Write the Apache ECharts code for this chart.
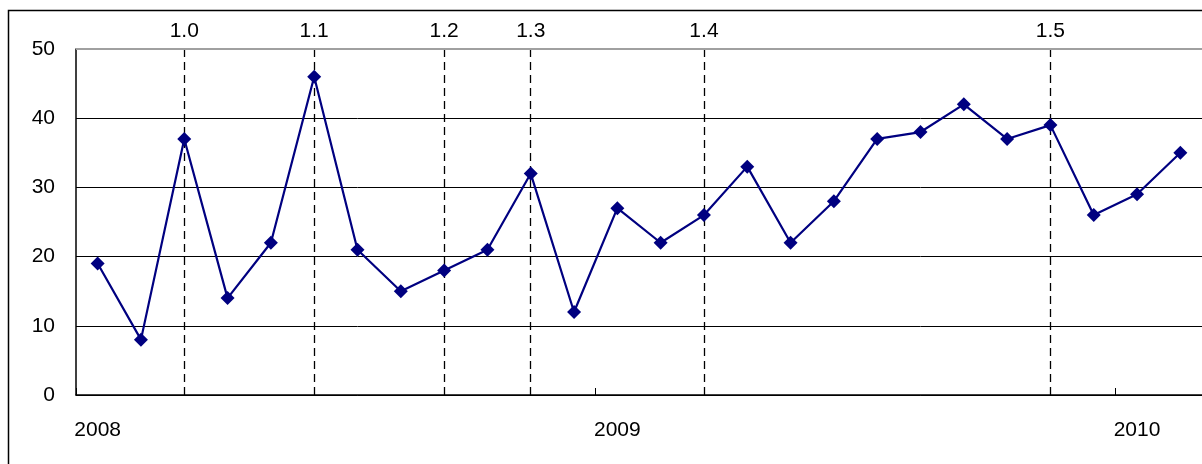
<!DOCTYPE html>
<html>
<head>
<meta charset="utf-8">
<script src="https://cdn.jsdelivr.net/npm/echarts@6/dist/echarts.min.js"></script>
<style>
  html, body { margin: 0; padding: 0; background: #fff; }
  #chart { width: 1202px; height: 464px; }
</style>
</head>
<body>
<div id="chart"></div>
<script>
// Monthly observations, Jan 2008 – Feb 2010
const months = [
  '2008-01','2008-02','2008-03','2008-04','2008-05','2008-06',
  '2008-07','2008-08','2008-09','2008-10','2008-11','2008-12',
  '2009-01','2009-02','2009-03','2009-04','2009-05','2009-06',
  '2009-07','2009-08','2009-09','2009-10','2009-11','2009-12',
  '2010-01','2010-02'
];
const values = [
  19, 8, 37, 14, 22, 46, 21, 15, 18, 21, 32, 12,
  27, 22, 26, 33, 22, 28, 37, 38, 42, 37, 39, 26,
  29, 35
];
// Release markers: version label and the month it landed in
const releaseNames = ['1.0', '1.1', '1.2', '1.3', '1.4', '1.5'];
const releaseMonths = ['2008-03', '2008-06', '2008-09', '2008-11', '2009-03', '2009-11'];
const yTicks = [0, 10, 20, 30, 40, 50];

const FONT = 'Liberation Sans, Arial, sans-serif';

const chart = echarts.init(document.getElementById('chart'), null, { renderer: 'canvas' });

const releaseLines = releaseMonths.map((m, i) => ({
  xAxis: m,
  label: { formatter: releaseNames[i] }
}));

chart.setOption({
  animation: false,
  backgroundColor: '#fff',
  graphic: [{
    type: 'rect',
    shape: { x: 8.5, y: 10.5, width: 1400, height: 600 },
    style: { fill: 'none', stroke: '#000', lineWidth: 1.5 },
    z: 0
  }],
  grid: { left: 76, top: 49, width: 1128, bottom: 69 },
  xAxis: {
    type: 'category',
    data: months,
    boundaryGap: true,
    axisLine: { lineStyle: { color: '#000', width: 1.5 } },
    axisTick: {
      show: true,
      inside: true,
      length: 7,
      interval: (i) => i % 12 === 0,
      lineStyle: { color: '#000', width: 1 }
    },
    axisLabel: {
      interval: (i) => i % 12 === 0,
      formatter: (v) => v.slice(0, 4),
      color: '#000',
      fontFamily: FONT,
      fontSize: 21,
      margin: 25
    },
    splitLine: { show: false }
  },
  yAxis: {
    type: 'value',
    min: yTicks[0],
    max: yTicks[yTicks.length - 1],
    interval: 10,
    axisLine: { show: true, lineStyle: { color: '#000', width: 1.5 } },
    axisTick: { show: true, inside: true, length: 8, lineStyle: { color: '#000', width: 1 } },
    axisLabel: {
      color: '#000',
      fontFamily: FONT,
      fontSize: 21,
      margin: 21,
      padding: [6, 0, 0, 0]
    },
    splitLine: {
      show: true,
      showMaxLine: false,
      lineStyle: { color: '#000', width: 1 }
    }
  },
  series: [{
    type: 'line',
    data: values,
    symbol: 'diamond',
    symbolSize: 14,
    itemStyle: { color: '#000080' },
    lineStyle: { color: '#000080', width: 2.2 },
    z: 5,
    markLine: {
      silent: true,
      symbol: 'none',
      animation: false,
      lineStyle: { color: '#000', type: [8, 5], width: 1.3 },
      label: {
        show: true,
        position: 'end',
        distance: 7,
        color: '#000',
        fontFamily: FONT,
        fontSize: 21
      },
      data: [
        ...releaseLines,
        {
          yAxis: 50,
          lineStyle: { color: '#a0a0a0', type: 'solid', width: 2 },
          label: { show: false }
        }
      ]
    }
  }]
});
</script>
</body>
</html>
